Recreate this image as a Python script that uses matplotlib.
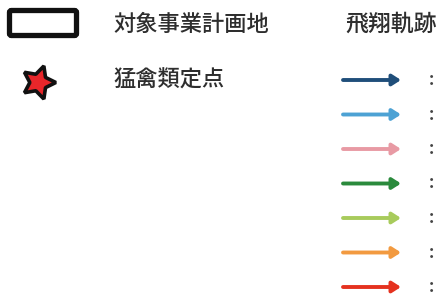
import matplotlib
matplotlib.use('Agg')
import matplotlib.pyplot as plt
from matplotlib.patches import FancyBboxPatch

plt.rcParams['font.family'] = ['Noto Sans CJK JP', 'DejaVu Sans']

# legend entries
area_label = '対象事業計画地'
point_label = '猛禽類定点'
track_title = '飛翔軌跡'
track_colors = ['#1f4e7a', '#4da2d4', '#e89aa4', '#2a8a3c', '#a8cb5c', '#f29a40', '#e5321f']

W, H = 443, 298
fig = plt.figure(figsize=(W / 100, H / 100), dpi=100)
ax = fig.add_axes([0, 0, 1, 1])
ax.set_xlim(0, W)
ax.set_ylim(H, 0)
ax.axis('off')

txt = '#2e2e2e'

# project area box
box = FancyBboxPatch((9.5, 10.5), 67, 25, boxstyle='round,pad=0,rounding_size=2',
                     facecolor='white', edgecolor='#111111', linewidth=3.8)
ax.add_patch(box)
ax.text(113, 24, area_label, fontsize=16, color=txt, va='center', ha='left',
        fontweight='medium')

# raptor observation point
ax.plot([38], [82], marker=(5, 1, -18), markersize=25, color='#e8262a',
        markeredgecolor='#111111', markeredgewidth=2.6)
ax.text(113, 80, point_label, fontsize=16, color=txt, va='center', ha='left',
        fontweight='medium')

# flight tracks
ax.text(345, 24, track_title, fontsize=16.5, color=txt, va='center', ha='left',
        fontweight='medium')
for i, c in enumerate(track_colors):
    y = 80 + i * 34.5
    ax.annotate('', xy=(401, y), xytext=(343, y),
                arrowprops=dict(arrowstyle='-|>,head_length=0.5,head_width=0.32',
                                color=c, lw=2.8, shrinkA=0, shrinkB=0))
    ax.text(429, y, ':', fontsize=12, color='#444444', va='center', ha='left',
            fontweight='bold')

fig.savefig('out.png', dpi=100, facecolor='white')
